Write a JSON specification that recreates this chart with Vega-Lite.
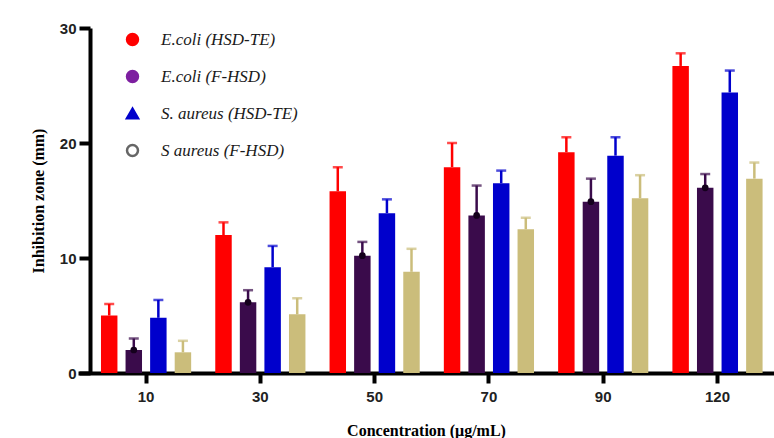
{
  "$schema": "https://vega.github.io/schema/vega-lite/v6.json",
  "width": 696,
  "height": 345,
  "autosize": {"type": "none"},
  "padding": {"left": 78, "top": 28, "right": 0, "bottom": 65},
  "background": "white",
  "data": {
    "values": [
      {"conc": "10", "series": "E.coli (HSD-TE)", "mean": 5.0, "upper": 6.0},
      {"conc": "10", "series": "E.coli (F-HSD)", "mean": 2.0, "upper": 3.0},
      {"conc": "10", "series": "S. aureus (HSD-TE)", "mean": 4.8, "upper": 6.35},
      {"conc": "10", "series": "S aureus (F-HSD)", "mean": 1.8, "upper": 2.8},
      {"conc": "30", "series": "E.coli (HSD-TE)", "mean": 12.0, "upper": 13.1},
      {"conc": "30", "series": "E.coli (F-HSD)", "mean": 6.15, "upper": 7.2},
      {"conc": "30", "series": "S. aureus (HSD-TE)", "mean": 9.2, "upper": 11.05},
      {"conc": "30", "series": "S aureus (F-HSD)", "mean": 5.1, "upper": 6.5},
      {"conc": "50", "series": "E.coli (HSD-TE)", "mean": 15.8, "upper": 17.9},
      {"conc": "50", "series": "E.coli (F-HSD)", "mean": 10.2, "upper": 11.4},
      {"conc": "50", "series": "S. aureus (HSD-TE)", "mean": 13.9, "upper": 15.1},
      {"conc": "50", "series": "S aureus (F-HSD)", "mean": 8.8, "upper": 10.8},
      {"conc": "70", "series": "E.coli (HSD-TE)", "mean": 17.9, "upper": 20.0},
      {"conc": "70", "series": "E.coli (F-HSD)", "mean": 13.7, "upper": 16.3},
      {"conc": "70", "series": "S. aureus (HSD-TE)", "mean": 16.5, "upper": 17.6},
      {"conc": "70", "series": "S aureus (F-HSD)", "mean": 12.5, "upper": 13.5},
      {"conc": "90", "series": "E.coli (HSD-TE)", "mean": 19.2, "upper": 20.5},
      {"conc": "90", "series": "E.coli (F-HSD)", "mean": 14.9, "upper": 16.9},
      {"conc": "90", "series": "S. aureus (HSD-TE)", "mean": 18.9, "upper": 20.5},
      {"conc": "90", "series": "S aureus (F-HSD)", "mean": 15.2, "upper": 17.2},
      {"conc": "120", "series": "E.coli (HSD-TE)", "mean": 26.7, "upper": 27.8},
      {"conc": "120", "series": "E.coli (F-HSD)", "mean": 16.1, "upper": 17.3},
      {"conc": "120", "series": "S. aureus (HSD-TE)", "mean": 24.4, "upper": 26.3},
      {"conc": "120", "series": "S aureus (F-HSD)", "mean": 16.9, "upper": 18.3}
    ]
  },
  "encoding": {
    "x": {
      "field": "conc",
      "type": "nominal",
      "sort": ["10", "30", "50", "70", "90", "120"],
      "scale": {"paddingInner": 0.14, "paddingOuter": 0.115, "align": 0.72},
      "axis": {
        "title": "Concentration (μg/mL)",
        "labelAngle": 0,
        "domainColor": "black",
        "domainWidth": 4,
        "tickColor": "black",
        "tickWidth": 4,
        "tickSize": 10,
        "labelPadding": 6,
        "labelFont": "Liberation Sans",
        "labelFontWeight": "bold",
        "labelFontSize": 15,
        "labelColor": "#222",
        "titleFont": "Liberation Serif",
        "titleFontWeight": "bold",
        "titleFontSize": 16,
        "titleColor": "black",
        "titlePadding": 18
      }
    },
    "xOffset": {
      "field": "series",
      "type": "nominal",
      "sort": ["E.coli (HSD-TE)", "E.coli (F-HSD)", "S. aureus (HSD-TE)", "S aureus (F-HSD)"],
      "scale": {"paddingInner": 0.33, "paddingOuter": 0.165}
    }
  },
  "layer": [
    {
      "mark": {"type": "point", "strokeWidth": 2.5, "opacity": 0},
      "encoding": {
        "y": {"field": "mean", "type": "quantitative"},
        "fill": {
          "field": "series",
          "type": "nominal",
          "scale": {
            "domain": ["E.coli (HSD-TE)", "E.coli (F-HSD)", "S. aureus (HSD-TE)", "S aureus (F-HSD)"],
            "range": ["#ff0000", "#7d1fa0", "#0000cc", "#ffffff"]
          },
          "legend": {"title": null, "symbolOpacity": 1}
        },
        "stroke": {
          "field": "series",
          "type": "nominal",
          "scale": {
            "domain": ["E.coli (HSD-TE)", "E.coli (F-HSD)", "S. aureus (HSD-TE)", "S aureus (F-HSD)"],
            "range": ["#ff0000", "#7d1fa0", "#0000cc", "#666666"]
          },
          "legend": {"title": null, "symbolOpacity": 1}
        },
        "shape": {
          "field": "series",
          "type": "nominal",
          "scale": {
            "domain": ["E.coli (HSD-TE)", "E.coli (F-HSD)", "S. aureus (HSD-TE)", "S aureus (F-HSD)"],
            "range": ["circle", "circle", "triangle-up", "circle"]
          },
          "legend": {"title": null, "symbolOpacity": 1}
        }
      }
    },
    {
      "mark": {"type": "bar"},
      "encoding": {
        "y": {
          "field": "mean",
          "type": "quantitative",
          "scale": {"domain": [0, 30], "nice": false},
          "axis": {
            "title": "Inhibition zone (mm)",
            "values": [0, 10, 20, 30],
            "grid": false,
            "offset": -12,
            "domainColor": "black",
            "domainWidth": 4,
            "tickColor": "black",
            "tickWidth": 4,
            "tickSize": 11,
            "labelPadding": 3,
            "labelFont": "Liberation Sans",
            "labelFontWeight": "bold",
            "labelFontSize": 15,
            "labelColor": "#222",
            "titleFont": "Liberation Serif",
            "titleFontWeight": "bold",
            "titleFontSize": 16,
            "titleColor": "black",
            "titlePadding": 13
          }
        },
        "color": {
          "field": "series",
          "type": "nominal",
          "scale": {
            "domain": ["E.coli (HSD-TE)", "E.coli (F-HSD)", "S. aureus (HSD-TE)", "S aureus (F-HSD)"],
            "range": ["#ff0000", "#3a0b4b", "#0000cc", "#cbbd7b"]
          },
          "legend": null
        }
      }
    },
    {
      "mark": {"type": "rule", "strokeWidth": 2.5},
      "encoding": {
        "y": {"field": "mean", "type": "quantitative"},
        "y2": {"field": "upper"},
        "color": {"field": "series", "type": "nominal", "legend": null}
      }
    },
    {
      "mark": {"type": "tick", "thickness": 2.5, "size": 10},
      "encoding": {
        "y": {"field": "upper", "type": "quantitative"},
        "color": {"field": "series", "type": "nominal", "legend": null}
      }
    },
    {
      "transform": [{"filter": "datum.series === 'E.coli (F-HSD)'"}],
      "mark": {"type": "point", "filled": true, "size": 45, "opacity": 1, "color": "#14001c"},
      "encoding": {
        "y": {"field": "mean", "type": "quantitative"}
      }
    }
  ],
  "config": {
    "view": {"stroke": null},
    "legend": {
      "orient": "none",
      "legendX": 46,
      "legendY": 3,
      "padding": 0,
      "labelFont": "Liberation Serif",
      "labelFontStyle": "italic",
      "labelFontSize": 17,
      "labelColor": "#1a1a1a",
      "labelLimit": 300,
      "symbolSize": 120,
      "symbolStrokeWidth": 2.5,
      "symbolOpacity": 1,
      "rowPadding": 16,
      "labelOffset": 20
    }
  }
}
